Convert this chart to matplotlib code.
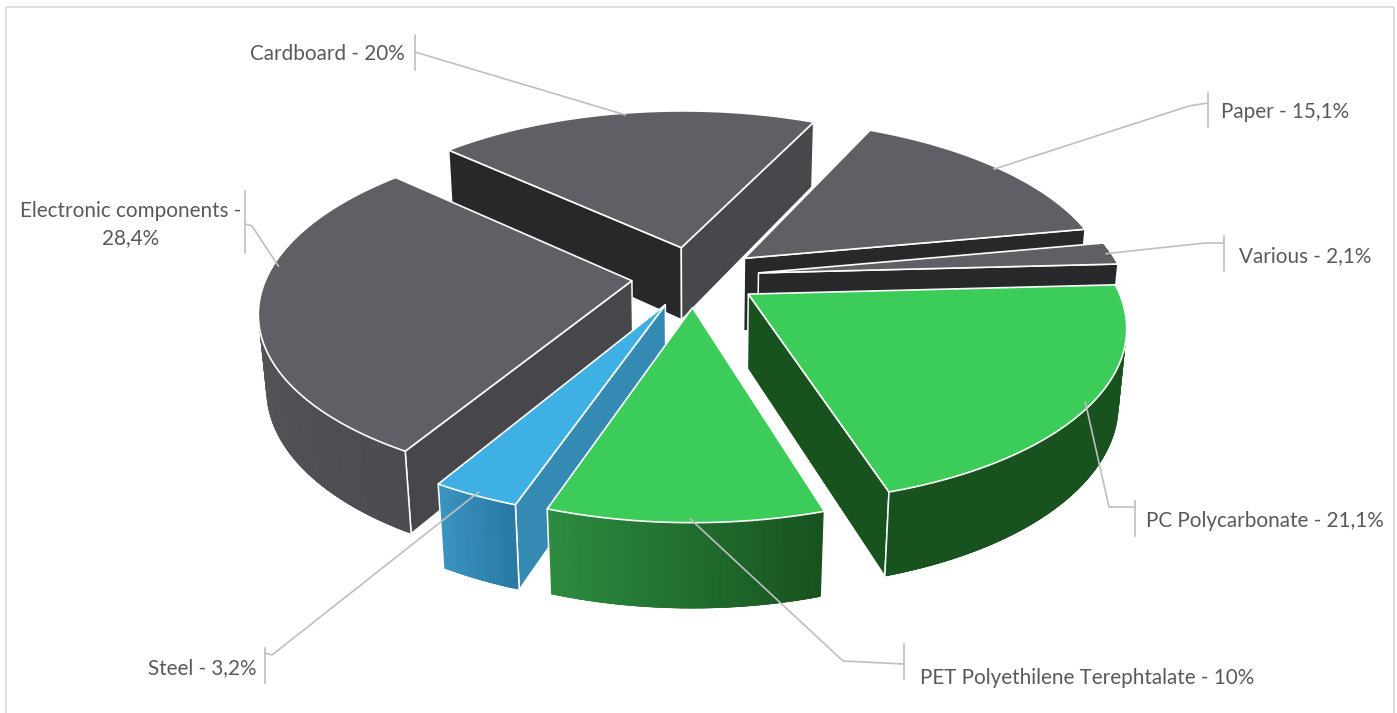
import numpy as np
import matplotlib
matplotlib.use("Agg")
import matplotlib.pyplot as plt
from matplotlib.collections import PolyCollection
from matplotlib.colors import to_rgb

# Waste composition, in clockwise order starting from Cardboard
names = ["Cardboard", "Paper", "Various", "PC Polycarbonate",
         "PET Polyethilene Terephtalate", "Steel", "Electronic components"]
values = [20, 15.1, 2.1, 21.1, 10, 3.2, 28.4]

top_colors = ["#5f6065", "#5f6065", "#5f6065", "#3ccc59", "#3ccc59", "#3eb0e3", "#5f6065"]
# colour of the cut wall at the start and at the end of each slice
start_wall = ["#27282a", "#27282a", "#27282a", "#18521f", "#18521f", "#348ab3", "#47464b"]
end_wall = ["#47484c", "#27282a", "#27282a", "#18521f", "#2a8a3e", "#348ab3", "#27282a"]
# outer wall gradient, going clockwise
rim_from = ["#5f6065", "#5f6065", "#5f6065", "#18521f", "#18521f", "#2a78a3", "#4b4b50"]
rim_to = ["#5f6065", "#5f6065", "#5f6065", "#18521f", "#2c8c40", "#3a94c2", "#5e5f63"]

# back-to-front drawing order
draw_order = [0, 1, 2, 6, 3, 5, 4]
explode = [0.18, 0.18, 0.18, 0.18, 0.18, 0.18, 0.17]

# label layout
label_x = [405, 1221, 1239, 1146, 920, 256, 131]
label_y = [54, 112, 256, 521, 678, 668, 224.5]
label_ha = ["right", "left", "left", "left", "left", "right", "center"]
elbow_x = [415, 1189, 1205, 1109, 843, 272, 252]
elbow_y = [52, 106, 243, 507, 661, 655, 226]
bracket_x = [415, 1208, 1224, 1135, 904, 265, 245]
bracket_top = [35, 93, 236, 501, 644, 648, 191]
bracket_bottom = [70, 127, 271, 536, 679, 683, 253]
join_y = [52, 103, 243, 507, 664, 653, 224]
leader_shift = [0, 0, 0, 0, -0.6, 0, 13.6]

# camera of the tilted pie
start_angle = -47.0
cx, cy = 693.5, 276.5
scale_x, scale_y, scale_z = 365, 168, 75
persp_y, persp_z = 0.165, 0.018
cam_v = -1 / persp_y  # where the viewer stands on the ground plane


def project(u, v, z):
    w = 1 + persp_y * v + persp_z * z
    return cx + scale_x * u / w, cy + (-scale_y * v + scale_z * z) / w


def rim_point(angle, center, r=1.0):
    a = np.radians(angle)
    return center[0] + r * np.sin(a), center[1] + r * np.cos(a)


def faces_viewer(u, v, nu, nv):
    # a vertical wall is visible when the viewer is on its outer side
    return u * nu + (v - cam_v) * nv < 0


fig = plt.figure(figsize=(13.97, 7.13), dpi=100)
ax = fig.add_axes([0, 0, 1, 1])
ax.set_xlim(0, 1397)
ax.set_ylim(713, 0)
ax.axis("off")

# chart frame, open at the bottom
ax.plot([5.5, 5.5, 1394, 1394], [713, 7, 7, 713], color="#d9d9d9", lw=1.2, zorder=0)

edges = start_angle + 3.6 * np.cumsum([0] + values)
mids = (edges[:-1] + edges[1:]) / 2
centers = [rim_point(m, (0, 0), e) for m, e in zip(mids, explode)]

z = 1
for i in draw_order:
    a0, a1 = edges[i], edges[i + 1]
    c = centers[i]
    angles = np.linspace(a0, a1, max(int(a1 - a0) * 2, 6))
    ru, rv = rim_point(angles, c)
    xc, yc = project(c[0], c[1], 0)

    # cut walls, only those turned towards the viewer
    ra0, ra1 = np.radians(a0), np.radians(a1)
    walls = ((a0, start_wall[i], -np.cos(ra0), np.sin(ra0)),
             (a1, end_wall[i], np.cos(ra1), -np.sin(ra1)))
    for ang, col, nu, nv in walls:
        if not faces_viewer(c[0], c[1], nu, nv):
            continue
        pu, pv = rim_point(ang, c)
        xs, ys = project(np.array([c[0], pu, pu, c[0]]), np.array([c[1], pv, pv, c[1]]),
                         np.array([0, 0, 1, 1]))
        ax.fill(xs, ys, facecolor=col, edgecolor="white", lw=1.1, joinstyle="round", zorder=z)
        z += 1

    # outer wall as thin overlapping quads so the shade can change along the arc
    rad = np.radians(angles)
    vis = faces_viewer(ru, rv, np.sin(rad), np.cos(rad))
    xt, yt = project(ru, rv, 0)
    xb, yb = project(ru, rv, 1)
    quads = []
    cols = []
    c0, c1 = np.array(to_rgb(rim_from[i])), np.array(to_rgb(rim_to[i]))
    n = len(angles)
    for j in range(n - 1):
        if not vis[j]:
            continue
        e = min(j + 3, n - 1)
        quads.append([(xt[j], yt[j]), (xt[e], yt[e]), (xb[e], yb[e]), (xb[j], yb[j])])
        cols.append(c0 + (c1 - c0) * j / (n - 2))
    if quads:
        ax.add_collection(PolyCollection(quads, facecolors=cols, edgecolors="none", zorder=z))
    z += 1
    for k in (0, -1):
        if vis[k]:
            ax.plot([xt[k], xb[k]], [yt[k], yb[k]], color="white", lw=1.1, zorder=z)
    z += 1

    # top face
    ax.fill(np.r_[xc, xt], np.r_[yc, yt], facecolor=top_colors[i], edgecolor="white",
            lw=1.2, joinstyle="miter", zorder=z)
    z += 1

# leader lines and labels
for i, name in enumerate(names):
    sep = " -\n" if name.startswith("Electronic") else " - "
    label = f"{name}{sep}{values[i]:g}%".replace(".", ",")
    pu, pv = rim_point(mids[i] + leader_shift[i], centers[i], 0.985)
    px, py = project(pu, pv, 0)
    ax.plot([px, elbow_x[i], bracket_x[i]], [py, elbow_y[i], join_y[i]], color="#bfbfbf", lw=1.2, zorder=z)
    ax.plot([bracket_x[i], bracket_x[i]], [bracket_top[i], bracket_bottom[i]], color="#bfbfbf", lw=1.2, zorder=z)
    ax.text(label_x[i], label_y[i], label, ha=label_ha[i], va="center", family="Lato",
            fontsize=14.9, color="#595959", linespacing=1.39, multialignment="center", zorder=z)

fig.savefig("out.png", dpi=100)
